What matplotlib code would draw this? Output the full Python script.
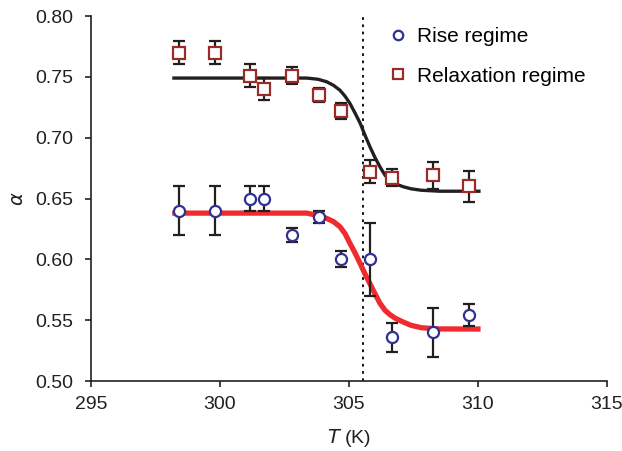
import matplotlib
matplotlib.use('Agg')
import matplotlib.pyplot as plt

plt.rcParams['font.family'] = ['Liberation Sans', 'DejaVu Sans']

# 测量数据
T_points = [298.4, 299.8, 301.15, 301.7, 302.8, 303.85, 304.7, 305.8, 306.65, 308.25, 309.65]
rise = [0.640, 0.640, 0.650, 0.650, 0.620, 0.635, 0.600, 0.600, 0.536, 0.540, 0.554]
rise_err = [0.020, 0.020, 0.010, 0.010, 0.006, 0.005, 0.0065, 0.030, 0.012, 0.020, 0.009]
relax = [0.770, 0.770, 0.751, 0.740, 0.751, 0.735, 0.722, 0.672, 0.667, 0.669, 0.660]
relax_err = [0.0095, 0.0095, 0.0095, 0.009, 0.007, 0.006, 0.0065, 0.0095, 0.007, 0.011, 0.013]

# 拟合曲线 (读图取点)
T_fit = [298.15, 303.36, 303.8, 304.13, 304.4, 304.65, 304.85, 305.04, 305.24, 305.43,
         305.62, 305.81, 306.0, 306.2, 306.4, 306.59, 306.8, 307.1, 307.4, 307.8, 308.5, 310.1]
relax_fit = [0.749, 0.749, 0.748, 0.746, 0.743, 0.739, 0.734, 0.728, 0.720, 0.712,
             0.702, 0.6926, 0.684, 0.676, 0.669, 0.665, 0.662, 0.6597, 0.658, 0.6568, 0.656, 0.656]
rise_fit = [0.638, 0.638, 0.636, 0.6337, 0.631, 0.6268, 0.621, 0.613, 0.605, 0.5967,
            0.588, 0.580, 0.572, 0.5639, 0.5580, 0.5545, 0.5515, 0.5485, 0.5458, 0.5438, 0.5428, 0.5427]

T_c = 305.55

fig = plt.figure(figsize=(6.22, 4.51), dpi=100)
ax = fig.add_axes([0.1463, 0.1552, 0.8296, 0.8093])

ax.axvline(T_c, color='black', linestyle=(0, (1.5, 2.5)), linewidth=1.3, zorder=1)
ax.plot(T_fit, relax_fit, color='#231f20', linewidth=2.4, zorder=2,
        solid_joinstyle='round', solid_capstyle='butt')
ax.plot(T_fit, rise_fit, color='#ee2b2e', linewidth=3.8, zorder=2,
        solid_joinstyle='round', solid_capstyle='butt')

ax.errorbar(T_points, rise, yerr=rise_err, fmt='o', color='#2e3192', mfc='white',
            mec='#2e3192', mew=1.6, ms=8, ecolor='#231f20', elinewidth=1.6,
            capsize=4.5, capthick=1.6, zorder=3, label='Rise regime')
ax.errorbar(T_points, relax, yerr=relax_err, fmt='s', color='#9b2b27', mfc='white',
            mec='#9b2b27', mew=1.6, ms=8, ecolor='#231f20', elinewidth=1.6,
            capsize=4.5, capthick=1.6, zorder=3, label='Relaxation regime')

ax.set_xlim(295, 315)
ax.set_ylim(0.50, 0.80)
ax.set_xticks([295, 300, 305, 310, 315])
ax.set_yticks([0.50, 0.55, 0.60, 0.65, 0.70, 0.75, 0.80])
ax.set_yticklabels([f'{v:.2f}' for v in ax.get_yticks()])

for side in ['top', 'right']:
    ax.spines[side].set_visible(False)
for side in ['left', 'bottom']:
    ax.spines[side].set_linewidth(1.2)
    ax.spines[side].set_color('#231f20')
ax.tick_params(direction='out', length=4, width=1.2, labelsize=14, colors='#231f20')
ax.tick_params(axis='x', pad=7)
ax.tick_params(axis='y', pad=9)

ax.set_xlabel('$T$ (K)', fontsize=14, color='#231f20', labelpad=10)
ax.set_ylabel(r'$\alpha$', fontsize=14, color='#231f20', labelpad=6)

handles, labels = ax.get_legend_handles_labels()
handles = [h[0] for h in handles]
ax.legend(handles, labels, loc='upper left', bbox_to_anchor=(0.590, 0.982),
          bbox_transform=fig.transFigure, frameon=False,
          fontsize=15, handletextpad=0.3, labelspacing=1.0, handlelength=1.2,
          markerscale=0.85)

plt.savefig('out.png', dpi=100)
plt.close()
